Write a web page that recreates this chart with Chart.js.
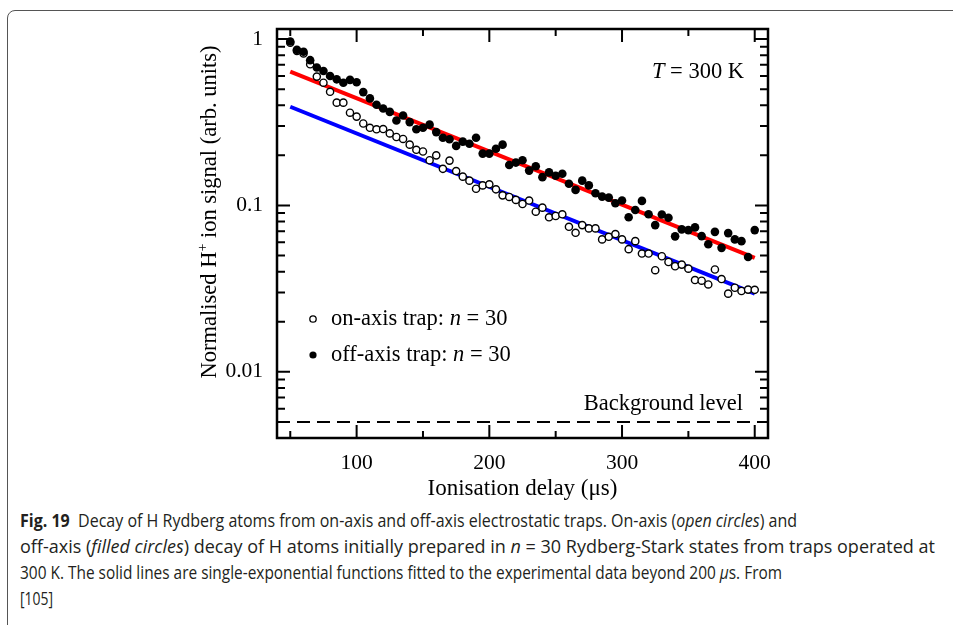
<!DOCTYPE html>
<html>
<head>
<meta charset="utf-8">
<script src="https://cdn.jsdelivr.net/npm/chart.js@4/dist/chart.umd.min.js"></script>
<style>
  html, body { margin: 0; padding: 0; background: #fff; }
  body { width: 953px; height: 625px; position: relative; overflow: hidden; }
  #frame { position: absolute; left: 7px; top: 10px; width: 1000px; height: 700px;
           border: 1.5px solid #555; border-radius: 8px; }
  #wrap { position: absolute; left: 0; top: 0; width: 953px; height: 505px; }
  #caption { position: absolute; left: 20px; top: 507px; width: 930px;
             font-family: 'Open Sans', sans-serif; font-size: 18px; line-height: 26px;
             color: #231f20; white-space: nowrap; }
  #caption .ln { display: inline-block; transform-origin: 0 50%; }
</style>
</head>
<body>
<div id="frame"></div>
<div id="wrap"><canvas id="decayChart"></canvas></div>
<div id="caption">
<div><span class="ln" data-w="777"><b>Fig. 19</b>&nbsp; Decay of H Rydberg atoms from on-axis and off-axis electrostatic traps. On-axis (<i>open circles</i>) and</span></div>
<div><span class="ln" data-w="915">off-axis (<i>filled circles</i>) decay of H atoms initially prepared in <i>n</i> = 30 Rydberg-Stark states from traps operated at</span></div>
<div><span class="ln" data-w="762">300 K. The solid lines are single-exponential functions fitted to the experimental data beyond 200 <i>μ</i>s. From</span></div>
<div><span class="ln" data-w="33">[105]</span></div>
</div>
<script>
// retardos de ionización (µs)
const delays = [50, 55, 60, 65, 70, 75, 80, 85, 90, 95, 100, 105, 110, 115, 120, 125, 130, 135, 140, 145,
  150, 155, 160, 165, 170, 175, 180, 185, 190, 195, 200, 205, 210, 215, 220, 225, 230, 235, 240, 245,
  250, 255, 260, 265, 270, 275, 280, 285, 290, 295, 300, 305, 310, 315, 320, 325, 330, 335, 340, 345,
  350, 355, 360, 365, 370, 375, 380, 385, 390, 395, 400];

// trampa en eje (círculos abiertos)
const onAxis = [0.95, 0.85, 0.82, 0.706, 0.595, 0.547, 0.482, 0.415, 0.415, 0.361, 0.342, 0.311, 0.293, 0.287, 0.288, 0.271, 0.258, 0.251, 0.232, 0.216,
  0.211, 0.187, 0.200, 0.166, 0.186, 0.161, 0.149, 0.141, 0.126, 0.132, 0.134, 0.125, 0.115, 0.1125, 0.108, 0.102, 0.107, 0.0917, 0.097, 0.0849,
  0.0864, 0.0885, 0.0744, 0.0685, 0.0762, 0.0728, 0.0728, 0.0625, 0.0648, 0.0673, 0.0625, 0.0546, 0.061, 0.0514, 0.0514, 0.0408, 0.0495, 0.0457, 0.0431, 0.0441,
  0.0417, 0.0356, 0.0353, 0.0335, 0.0412, 0.0361, 0.0295, 0.0320, 0.0306, 0.0312, 0.0311];

// trampa fuera de eje (círculos llenos)
const offAxis = [0.968, 0.862, 0.840, 0.747, 0.675, 0.643, 0.600, 0.573, 0.547, 0.569, 0.550, 0.480, 0.440, 0.403, 0.383, 0.365, 0.324, 0.347, 0.317, 0.287,
  0.293, 0.306, 0.276, 0.255, 0.250, 0.228, 0.242, 0.235, 0.255, 0.205, 0.205, 0.219, 0.232, 0.175, 0.181, 0.187, 0.162, 0.172, 0.148, 0.158,
  0.151, 0.155, 0.135, 0.124, 0.141, 0.132, 0.1185, 0.113, 0.1115, 0.103, 0.107, 0.0849, 0.0939, 0.1065, 0.0885, 0.0762, 0.0882, 0.0844, 0.0652, 0.0718,
  0.0711, 0.0738, 0.0654, 0.0584, 0.0694, 0.0556, 0.0682, 0.0625, 0.061, 0.0490, 0.0711];

// ajustes exponenciales (extremos)
const fitX = [50, 400];
const onFit = [0.392, 0.0295];
const offFit = [0.638, 0.0484];

// nivel de fondo
const bgX = [40, 410];
const bgLevel = [0.005, 0.005];

const xTicks = [100, 200, 300, 400];
const xMinor = [50, 150, 250, 350];
const yTicks = [0.01, 0.1, 1];

const pts = (xs, ys) => xs.map((x, i) => ({ x: x, y: ys[i] }));

const serif = "'Liberation Serif', 'DejaVu Serif', serif";

// marco y marcas hacia adentro en los cuatro lados
const framePlugin = {
  id: 'framePlugin',
  afterDatasetsDraw(chart) {
    const { ctx, chartArea: a, scales } = chart;
    ctx.save();
    ctx.strokeStyle = '#000';
    ctx.lineWidth = 2.5;
    ctx.strokeRect(a.left, a.top, a.right - a.left, a.bottom - a.top);
    ctx.lineWidth = 2;
    ctx.beginPath();
    const xt = (v, len) => {
      const px = scales.x.getPixelForValue(v);
      ctx.moveTo(px, a.bottom); ctx.lineTo(px, a.bottom - len);
      ctx.moveTo(px, a.top); ctx.lineTo(px, a.top + len);
    };
    xTicks.forEach(v => xt(v, 13));
    xMinor.forEach(v => xt(v, 7));
    const yt = (v, len) => {
      const py = scales.y.getPixelForValue(v);
      if (py < a.top || py > a.bottom) return;
      ctx.moveTo(a.left, py); ctx.lineTo(a.left + len, py);
      ctx.moveTo(a.right, py); ctx.lineTo(a.right - len, py);
    };
    [0.001, 0.01, 0.1, 1].forEach(d => {
      for (let m = 1; m <= 9; m++) yt(d * m, m === 1 ? 13 : 8);
    });
    ctx.stroke();
    ctx.restore();
  }
};

// textos: título del eje y, temperatura, leyenda, nivel de fondo
const textPlugin = {
  id: 'textPlugin',
  afterDraw(chart) {
    const { ctx } = chart;
    ctx.save();
    ctx.fillStyle = '#000';
    ctx.textBaseline = 'middle';

    // título eje y
    ctx.save();
    ctx.translate(210, 212);
    ctx.rotate(-Math.PI / 2);
    ctx.font = '22.5px ' + serif;
    const t1 = 'Normalised H', t2 = '+', t3 = ' ion signal (arb. units)';
    const w1 = ctx.measureText(t1).width, w3 = ctx.measureText(t3).width;
    ctx.font = '14px ' + serif;
    const w2 = ctx.measureText(t2).width;
    const x0 = -(w1 + w2 + w3) / 2;
    ctx.textAlign = 'left';
    ctx.font = '22.5px ' + serif;
    ctx.fillText(t1, x0, 0);
    ctx.font = '14px ' + serif;
    ctx.fillText(t2, x0 + w1, -7);
    ctx.font = '22.5px ' + serif;
    ctx.fillText(t3, x0 + w1 + w2, 0);
    ctx.restore();

    // T = 300 K (alineado a la derecha)
    ctx.textAlign = 'left';
    ctx.font = '22.5px ' + serif;
    const rest = ' = 300 K';
    const wRest = ctx.measureText(rest).width;
    ctx.font = 'italic 22.5px ' + serif;
    const wT = ctx.measureText('T').width;
    const xT = 744 - wRest - wT;
    ctx.fillText('T', xT, 72);
    ctx.font = '22.5px ' + serif;
    ctx.fillText(rest, xT + wT, 72);

    // leyenda
    const items = [
      { y: 319, fill: false, label: 'on-axis trap: ' },
      { y: 355, fill: true, label: 'off-axis trap: ' }
    ];
    items.forEach(it => {
      ctx.beginPath();
      ctx.arc(313, it.y, it.fill ? 3.6 : 3.2, 0, Math.PI * 2);
      if (it.fill) { ctx.fill(); } else { ctx.lineWidth = 1.3; ctx.stroke(); }
      let x = 331;
      ctx.font = '22.5px ' + serif;
      ctx.fillText(it.label, x, it.y);
      x += ctx.measureText(it.label).width;
      ctx.font = 'italic 22.5px ' + serif;
      ctx.fillText('n', x, it.y);
      x += ctx.measureText('n').width;
      ctx.font = '22.5px ' + serif;
      ctx.fillText(' = 30', x, it.y);
    });

    // nivel de fondo
    ctx.textAlign = 'right';
    ctx.font = '22.5px ' + serif;
    ctx.fillText('Background level', 743, 404);
    ctx.restore();
  }
};

new Chart(document.getElementById('decayChart'), {
  type: 'scatter',
  data: {
    datasets: [
      {
        label: 'off-axis trap: n = 30',
        data: pts(delays, offAxis),
        backgroundColor: '#000',
        borderColor: '#000',
        pointRadius: 4.3,
        borderWidth: 0,
        order: 0
      },
      {
        label: 'on-axis trap: n = 30',
        data: pts(delays, onAxis),
        backgroundColor: '#fff',
        borderColor: '#000',
        pointRadius: 3.6,
        borderWidth: 1.4,
        order: 1
      },
      {
        label: 'off-axis fit',
        data: pts(fitX, offFit),
        showLine: true,
        borderColor: '#ff0000',
        borderWidth: 4,
        pointRadius: 0,
        order: 2
      },
      {
        label: 'on-axis fit',
        data: pts(fitX, onFit),
        showLine: true,
        borderColor: '#0000ff',
        borderWidth: 4,
        pointRadius: 0,
        order: 2
      },
      {
        label: 'Background level',
        data: pts(bgX, bgLevel),
        showLine: true,
        borderColor: '#000',
        borderWidth: 2,
        borderDash: [13, 7],
        pointRadius: 0,
        order: 3
      }
    ]
  },
  options: {
    responsive: true,
    maintainAspectRatio: false,
    animation: false,
    layout: { padding: { left: 197, right: 185, top: 29, bottom: 0 } },
    plugins: {
      legend: { display: false },
      tooltip: { enabled: false }
    },
    scales: {
      x: {
        type: 'linear',
        min: 40,
        max: 410,
        grid: { display: false, drawTicks: false },
        border: { display: false },
        afterBuildTicks: s => { s.ticks = xTicks.map(v => ({ value: v })); },
        afterFit: s => { s.height = 67; },
        ticks: {
          padding: 12,
          color: '#000',
          font: { family: serif, size: 21.5 }
        },
        title: {
          display: true,
          text: 'Ionisation delay (μs)',
          color: '#000',
          font: { family: serif, size: 23 },
          padding: { top: 0, bottom: 2 }
        }
      },
      y: {
        type: 'logarithmic',
        min: 0.004,
        max: 1.15,
        grid: { display: false, drawTicks: false },
        border: { display: false },
        afterBuildTicks: s => { s.ticks = yTicks.map(v => ({ value: v })); },
        afterFit: s => { s.width = 80; },
        ticks: {
          padding: 14,
          color: '#000',
          autoSkip: false,
          font: { family: serif, size: 21.5 },
          callback: v => String(v)
        }
      }
    }
  },
  plugins: [framePlugin, textPlugin]
});

// ajustar el ancho de cada línea del pie de figura
document.querySelectorAll('#caption .ln').forEach(el => {
  const w = el.getBoundingClientRect().width;
  const target = Number(el.dataset.w);
  if (w > 0) el.style.transform = 'scaleX(' + (target / w).toFixed(4) + ')';
});
</script>
</body>
</html>
